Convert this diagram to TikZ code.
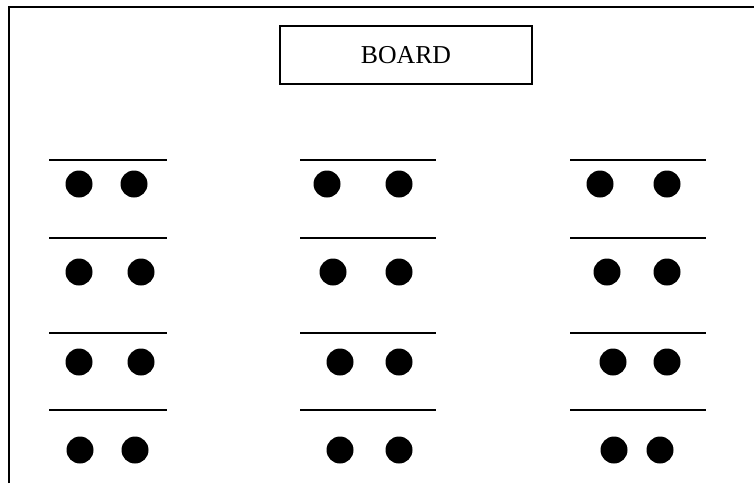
\documentclass[tikz,border=0pt]{standalone}
\usepackage{fontspec}
\setmainfont{Liberation Serif}
\usepackage{tikz}
\usetikzlibrary{positioning}

\begin{document}
\begin{tikzpicture}[
    x=0.3mm, y=-0.3mm,
    font=\fontsize{22}{26}\selectfont,
    board/.style={draw, line width=1.1pt, minimum width=252*0.3mm, minimum height=58*0.3mm, inner sep=0pt},
    desk/.style={line width=1.5pt},
    student/.style={circle, fill=black, minimum size=27*0.3mm, inner sep=0pt}
]
\useasboundingbox (0,0) rectangle (754,483);

% room wall (top and left only)
\coordinate (wallL) at (9,483);
\coordinate (wallC) at (9,7);
\coordinate (wallR) at (754,7);
\draw[line width=1.2pt] (wallL) -- (wallC) -- (wallR);

\node[board] (board) at (406,55) {BOARD};

% desks: left end, right end, row height
\foreach \col/\xa/\xb in {1/49/167, 2/300/436, 3/570/706}{
  \foreach \row/\y in {1/160, 2/238, 3/333, 4/410}{
    \coordinate (d\col\row a) at (\xa,\y);
    \coordinate (d\col\row b) at (\xb,\y);
    \draw[desk] (d\col\row a) -- (d\col\row b);
  }
}

% students, two per desk
\foreach \name/\x/\y in {
    s11a/79/184, s11b/134/184, s12a/79/272, s12b/141/272,
    s13a/79/362, s13b/141/362, s14a/80/450, s14b/135/450,
    s21a/327/184, s21b/399/184, s22a/333/272, s22b/399/272,
    s23a/340/362, s23b/399/362, s24a/340/450, s24b/399/450,
    s31a/600/184, s31b/667/184, s32a/607/272, s32b/667/272,
    s33a/613/362, s33b/667/362, s34a/614/450, s34b/660/450}{
  \node[student] (\name) at (\x,\y) {};
}
\end{tikzpicture}
\end{document}
